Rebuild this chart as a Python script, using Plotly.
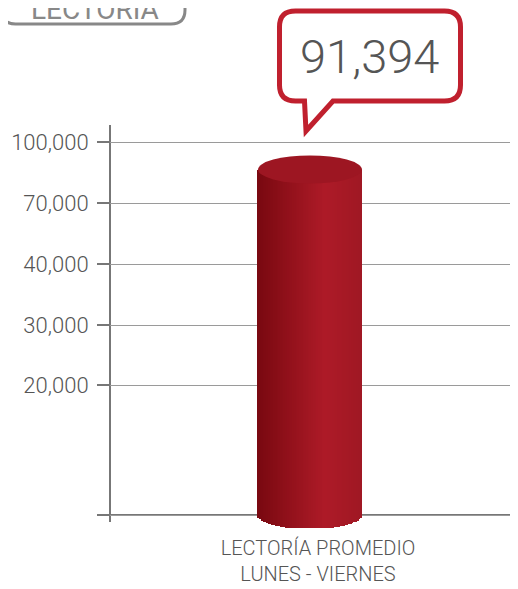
import numpy as np
import plotly.graph_objects as go

# ---- data ----
categories = ["LECTORÍA PROMEDIO<br>LUNES - VIERNES"]
values = [91394]
tick_values = [0, 20000, 30000, 40000, 70000, 100000]
tick_labels = ["", "20,000", "30,000", "40,000", "70,000", "100,000"]
badge_title = "LECTORÍA"

# ---- layout constants (non-linear axis: evenly spaced labelled ticks) ----
tick_positions = [0, 130, 190, 251, 312, 373]
OFF = 8                      # default body margin of the html page
W, H = 518 - OFF, 589 - OFF
ML, MR, MT, MB = 110 - OFF, 0, 125 - OFF, 61
PLOT_W = W - ML - MR
PLOT_H = H - MT - MB
Y_RANGE = [-13, 390]
FONT = "Roboto"


def scale(v):
    return float(np.interp(v, tick_values, tick_positions))


def xp(px):  # page pixel -> paper
    return (px - OFF - ML) / PLOT_W


def yp(py):
    return (OFF + H - MB - py) / PLOT_H


def path_px(points_cmds):
    out = []
    for cmd, pts in points_cmds:
        s = cmd
        if pts:
            s += " ".join(f"{xp(x):.5f},{yp(y):.5f}" for x, y in pts)
        out.append(s)
    return " ".join(out)


def rounded_rect(x0, y0, x1, y1, r, tail=None):
    cmds = [("M", [(x0 + r, y0)]), ("L", [(x1 - r, y0)]),
            ("Q", [(x1, y0), (x1, y0 + r)]), ("L", [(x1, y1 - r)]),
            ("Q", [(x1, y1), (x1 - r, y1)])]
    if tail:
        tl, tip, tr = tail
        cmds += [("L", [(tr, y1)]), ("L", [tip]), ("L", [(tl, y1)])]
    cmds += [("L", [(x0 + r, y1)]), ("Q", [(x0, y1), (x0, y1 - r)]),
             ("L", [(x0, y0 + r)]), ("Q", [(x0, y0), (x0 + r, y0)]), ("Z", [])]
    return path_px(cmds)


# cylinder geometry (x in [0,1] axis units)
cx = xp(310)
half_w = 52 / PLOT_W
ell_h = 14
N = 60
edges = np.linspace(cx - half_w, cx + half_w, N + 1)
centers = (edges[:-1] + edges[1:]) / 2
u = (centers - cx) / half_w
bases = -ell_h * np.sqrt(np.clip(1 - u ** 2, 0, 1))


def grad(t):
    stops = [(0.0, (122, 9, 17)), (0.65, (174, 27, 40)), (1.0, (160, 24, 36))]
    for (t0, c0), (t1, c1) in zip(stops[:-1], stops[1:]):
        if t <= t1:
            f = (t - t0) / (t1 - t0)
            return "rgb(%d,%d,%d)" % tuple(int(a + (b - a) * f) for a, b in zip(c0, c1))
    return "rgb(%d,%d,%d)" % stops[-1][1]


colors = [grad(t) for t in np.linspace(0, 1, N)]

v = values[0]
top_c = scale(v) - ell_h + 4  # ellipse sits at the value

fig = go.Figure()
fig.add_trace(go.Bar(
    x=centers, y=[top_c - b for b in bases], base=bases,
    width=(2 * half_w / N) * 1.05, marker=dict(color=colors, line=dict(width=0)),
    hoverinfo="skip", showlegend=False))

shapes = []
# axis lines
shapes.append(dict(type="line", xref="paper", yref="y", x0=-0.025, x1=1, y0=0, y1=0,
                   line=dict(color="#777", width=2), layer="between"))
shapes.append(dict(type="line", xref="paper", yref="y", x0=0, x1=0, y0=-7, y1=Y_RANGE[1],
                   line=dict(color="#777", width=2), layer="between"))
# top ellipse
shapes.append(dict(type="circle", xref="x", yref="y",
                   x0=cx - half_w, x1=cx + half_w, y0=top_c - ell_h, y1=top_c + ell_h,
                   fillcolor="#9d1622", line=dict(width=0), layer="above"))
# callout
shapes.append(dict(type="path", xref="paper", yref="paper",
                   path=rounded_rect(279.5, 11, 460.5, 101, 16,
                                     tail=(304.5, (306, 131), 333)),
                   fillcolor="white", line=dict(color="#c0202e", width=5)))
# badge (top clipped by page edge, as in the reference)
shapes.append(dict(type="path", xref="paper", yref="paper",
                   path=rounded_rect(1.5, -20, 185, 24, 14),
                   fillcolor="white", line=dict(color="#888", width=3)))

annotations = [
    dict(xref="paper", yref="paper", x=xp(369), y=yp(57), text=f"{v:,}",
         showarrow=False, xanchor="center", yanchor="middle",
         font=dict(family=FONT, size=47, color="#555", weight=300)),
    dict(xref="paper", yref="paper", x=xp(95), y=yp(28), text=badge_title,
         showarrow=False, xanchor="center", yanchor="bottom",
         font=dict(family=FONT, size=28, color="#888")),
]

fig.update_layout(
    width=W, height=H,
    margin=dict(l=ML, r=MR, t=MT, b=MB, pad=0),
    paper_bgcolor="white", plot_bgcolor="white",
    shapes=shapes, annotations=annotations,
    bargap=0,
    xaxis=dict(range=[0, 1], showgrid=False, zeroline=False, showline=False,
               tickvals=[xp(318)], ticktext=categories, ticks="",
               ticklabelstandoff=6,
               tickfont=dict(family=FONT, size=20, color="#555", weight=300),
               fixedrange=True),
    yaxis=dict(range=Y_RANGE, tickvals=tick_positions, ticktext=tick_labels,
               showgrid=True, gridcolor="#9a9a9a", gridwidth=1,
               zeroline=False, showline=False,
               ticks="outside", ticklen=12, tickwidth=2, tickcolor="#777",
               ticklabelstandoff=4,
               tickfont=dict(family=FONT, size=22, color="#555", weight=300),
               fixedrange=True),
)

fig.write_html("out.html")
